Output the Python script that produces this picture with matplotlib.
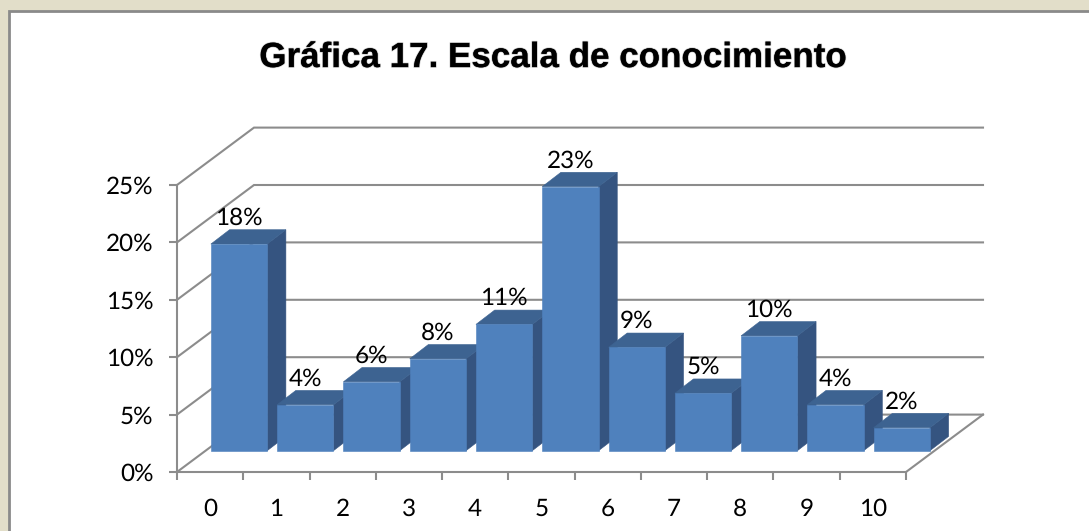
import matplotlib
matplotlib.use("Agg")
import matplotlib.pyplot as plt
import matplotlib.patheffects as pe
from matplotlib.patches import Polygon, Rectangle

categorias = ["0", "1", "2", "3", "4", "5", "6", "7", "8", "9", "10"]
valores = [18, 4, 6, 8, 11, 23, 9, 5, 10, 4, 2]
marcas_y = [0, 5, 10, 15, 20, 25]
titulo = "Gráfica 17. Escala de conocimiento"

W, H = 1089, 531

# profundidad del piso en unidades de datos
prof_x = 77 / 66.27
prof_y = 5.0
# donde arranca la barra dentro del piso
ini_x = 0.436
ini_y = 1.855
ancho = 0.85
lado_x = 0.282
lado_y = 1.25

gris = "#8c8c8c"
letra = 17.5

plt.rcParams["text.hinting"] = "none"

fig = plt.figure(figsize=(W / 100, H / 100), dpi=100, facecolor="#e2dec9")
fig.add_artist(Rectangle((9 / W, -0.1), 1, 1.1 - 11 / H, transform=fig.transFigure,
                         facecolor="white", edgecolor="#8a8a8a", linewidth=2, zorder=-1))

ax = fig.add_axes([177 / W, (H - 472) / H, (906 - 177) / W, (472 - 185) / H])
ax.set_xlim(0, 11)
ax.set_ylim(0, 25)
ax.patch.set_alpha(0)

for s in ["top", "right"]:
    ax.spines[s].set_visible(False)
for s in ["left", "bottom"]:
    ax.spines[s].set_color(gris)
    ax.spines[s].set_linewidth(1.5)

# rejilla: diagonal en la pared y linea del fondo
for v in marcas_y:
    ax.plot([0, prof_x, 11 + prof_x], [v, v + prof_y, v + prof_y], color=gris, lw=1.5,
            clip_on=False, zorder=1, solid_joinstyle="miter")
ax.plot([11, 11 + prof_x], [0, prof_y], color=gris, lw=1.5, clip_on=False, zorder=1)

for i in range(len(valores)):
    v = valores[i]
    x0 = i + (1 - ancho) / 2 + ini_x
    x1 = x0 + ancho
    y0 = ini_y
    y1 = ini_y + v
    lado = Polygon([(x1, y0), (x1 + lado_x, y0 + lado_y), (x1 + lado_x, y1 + lado_y), (x1, y1)],
                   facecolor="#355480", edgecolor="#355480", lw=0.4, clip_on=False, zorder=2)
    arriba = Polygon([(x0, y1), (x0 + lado_x, y1 + lado_y), (x1 + lado_x, y1 + lado_y), (x1, y1)],
                     facecolor="#3d6391", edgecolor="#3d6391", lw=0.4, clip_on=False, zorder=2)
    frente = Rectangle((x0, y0), ancho, v, facecolor="#4f81bd", edgecolor="#4f81bd", lw=0.4,
                       clip_on=False, zorder=2)
    ax.add_patch(lado)
    ax.add_patch(arriba)
    ax.add_patch(frente)
    ax.annotate(str(v) + "%", (x0 + ancho / 2, y1), xytext=(0, 18.7), textcoords="offset points",
                ha="center", va="center", fontsize=letra, family="Lato", color="black", zorder=5,
                annotation_clip=False)

ax.set_yticks(marcas_y)
ax.set_yticklabels([str(v) + "%" for v in marcas_y], fontsize=letra, family="Lato")
ax.set_xticks(range(12))
ax.set_xticklabels([])
ax.set_xticks([i + 0.5 for i in range(11)], minor=True)
ax.set_xticklabels(categorias, minor=True, fontsize=letra, family="Lato")
ax.tick_params(axis="x", which="major", length=6, width=1.5, color=gris)
ax.tick_params(axis="x", which="minor", length=0, pad=19)
ax.tick_params(axis="y", length=6, width=1.5, color=gris, pad=11)

t = fig.text(553 / W, (H - 58) / H, titulo, ha="center", va="center", fontsize=25.2,
             fontweight="bold", family="Liberation Sans", color="black")
t.set_path_effects([pe.withStroke(linewidth=1.2, foreground="#cccccc"), pe.Normal()])

fig.savefig("out.png", dpi=100, facecolor=fig.get_facecolor())
